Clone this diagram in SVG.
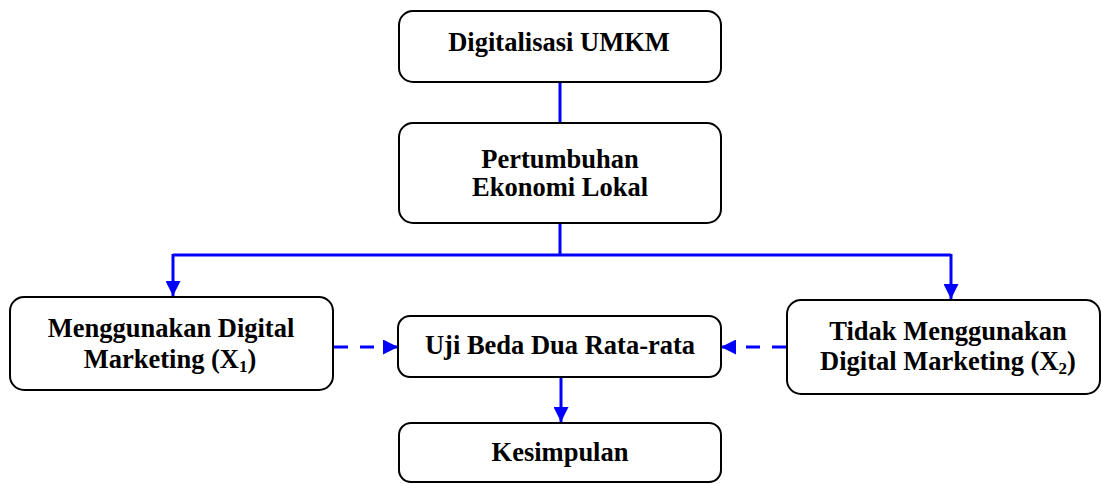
<svg xmlns="http://www.w3.org/2000/svg" width="1102" height="484" viewBox="0 0 1102 484">
<style>
.box{fill:#fff;stroke:#000;stroke-width:2}
.t{font-family:"Liberation Serif","Times New Roman",serif;font-weight:bold;font-size:26.5px;fill:#000;text-anchor:middle}
.sub{font-size:17px}
.c{fill:none;stroke:#0000FF;stroke-width:3}
.d{stroke-dasharray:14 12}
</style>
<defs>
<marker id="ah" viewBox="0 0 10 10" refX="10" refY="5" markerWidth="15" markerHeight="15" markerUnits="userSpaceOnUse" orient="auto">
<path d="M0,0 L10,5 L0,10 z" fill="#0000FF"/>
</marker>
</defs>
<g id="connectors">
<line class="c" x1="560" y1="82" x2="560" y2="123"/>
<polyline class="c" points="560,223 560,255"/>
<polyline class="c" points="173,255 951,255"/>
<line class="c" x1="173" y1="254" x2="173" y2="296" marker-end="url(#ah)"/>
<line class="c" x1="951" y1="254" x2="951" y2="299" marker-end="url(#ah)"/>
<line class="c d" x1="334" y1="347" x2="398" y2="347" marker-end="url(#ah)"/>
<line class="c d" x1="786" y1="347" x2="721" y2="347" marker-end="url(#ah)"/>
<line class="c" x1="561" y1="377" x2="561" y2="422" marker-end="url(#ah)"/>
</g>
<g id="n1">
<rect class="box" x="399" y="11" width="322" height="71" rx="14"/>
<text class="t" x="559" y="51">Digitalisasi UMKM</text>
</g>
<g id="n2">
<rect class="box" x="399" y="123" width="322" height="100" rx="14"/>
<text class="t" x="560" y="168">Pertumbuhan</text>
<text class="t" x="560" y="196">Ekonomi Lokal</text>
</g>
<g id="n3">
<rect class="box" x="10" y="297" width="323" height="93" rx="14"/>
<text class="t" x="171" y="337">Menggunakan Digital</text>
<text class="t" x="170" y="368">Marketing (X<tspan class="sub" dy="4">1</tspan><tspan dy="-4">)</tspan></text>
</g>
<g id="n4">
<rect class="box" x="398" y="316" width="323" height="61" rx="12"/>
<text class="t" x="560" y="354">Uji Beda Dua Rata-rata</text>
</g>
<g id="n5">
<rect class="box" x="787" y="300" width="313" height="94" rx="14"/>
<text class="t" x="948" y="340">Tidak Menggunakan</text>
<text class="t" x="948" y="370">Digital Marketing (X<tspan class="sub" dy="4">2</tspan><tspan dy="-4">)</tspan></text>
</g>
<g id="n6">
<rect class="box" x="399" y="423" width="322" height="59" rx="12"/>
<text class="t" x="560" y="461">Kesimpulan</text>
</g>
</svg>
